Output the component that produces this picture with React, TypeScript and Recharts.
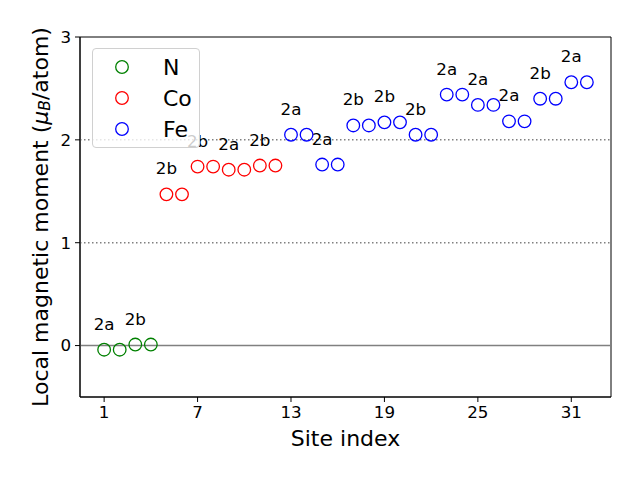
import React from "react";
import {
  ScatterChart,
  Scatter,
  XAxis,
  YAxis,
  ReferenceLine,
  ReferenceArea,
} from "recharts";

const nSites = [1, 2, 3, 4];
const nMoments = [-0.04, -0.04, 0.01, 0.01];
const coSites = [5, 6, 7, 8, 9, 10, 11, 12];
const coMoments = [1.47, 1.47, 1.74, 1.74, 1.71, 1.71, 1.75, 1.75];
const feSites = [13, 14, 15, 16, 17, 18, 19, 20, 21, 22, 23, 24, 25, 26, 27, 28, 29, 30, 31, 32];
const feMoments = [
  2.05, 2.05, 1.76, 1.76, 2.14, 2.14, 2.17, 2.17, 2.05, 2.05,
  2.44, 2.44, 2.34, 2.34, 2.18, 2.18, 2.4, 2.4, 2.56, 2.56,
];
const labelSites = [1, 3, 5, 7, 9, 11, 13, 15, 17, 19, 21, 23, 25, 27, 29, 31];
const labelTexts = ["2a", "2b", "2b", "2b", "2a", "2b", "2a", "2a", "2b", "2b", "2b", "2a", "2a", "2a", "2b", "2a"];
const xTicks = [1, 7, 13, 19, 25, 31];
const yTicks = [0, 1, 2, 3];
const xDomain = [-0.55, 33.55];
const yDomain = [-0.5, 3];

const seriesNames = ["N", "Co", "Fe"];
const seriesColors = ["#008000", "#ff0000", "#0000ff"];

const FONT = "DejaVu Sans, sans-serif";

const toPoints = (sites: number[], vals: number[]) =>
  sites.map((s, i) => ({ site: s, moment: vals[i] }));

const nData = toPoints(nSites, nMoments);
const coData = toPoints(coSites, coMoments);
const feData = toPoints(feSites, feMoments);
const allMoments = [...nMoments, ...coMoments, ...feMoments];
const allSites = [...nSites, ...coSites, ...feSites];
const labelData = labelSites.map((s, i) => ({
  site: s,
  moment: allMoments[allSites.indexOf(s)],
  text: labelTexts[i],
}));

const circleShape = (color: string) => (props: any) => (
  <circle cx={props.cx} cy={props.cy} r={6.3} fill="none" stroke={color} strokeWidth={1.3} />
);

const labelShape = (props: any) => (
  <text
    x={props.cx}
    y={props.cy - 26}
    textAnchor="middle"
    dominantBaseline="central"
    fontFamily={FONT}
    fontSize={16.7}
    fill="#000"
  >
    {props.payload.text}
  </text>
);

const LegendBox = () => (
  <div
    style={{
      position: "absolute",
      left: 92,
      top: 48,
      width: 106,
      height: 98,
      border: "1px solid #d0d0d0",
      borderRadius: 4,
      background: "rgba(255,255,255,0.8)",
      fontFamily: FONT,
    }}
  >
    {seriesNames.map((name, i) => (
      <div
        key={name}
        style={{ position: "absolute", left: 0, top: 3 + i * 31, height: 31, width: 106 }}
      >
        <svg width={40} height={31} style={{ position: "absolute", left: 9, top: 0 }}>
          <circle cx={20} cy={15} r={6.3} fill="none" stroke={seriesColors[i]} strokeWidth={1.3} />
        </svg>
        <span
          style={{
            position: "absolute",
            left: 70,
            top: 0,
            lineHeight: "31px",
            fontSize: 22,
            color: "#000",
          }}
        >
          {name}
        </span>
      </div>
    ))}
  </div>
);

export default function App() {
  return (
    <div style={{ position: "absolute", left: 0, top: 0, width: 640, height: 480, background: "#fff" }}>
      <ScatterChart
        width={640}
        height={480}
        margin={{ top: 37, right: 29, bottom: 0, left: 0 }}
      >
        <XAxis
          type="number"
          dataKey="site"
          domain={xDomain}
          ticks={xTicks}
          allowDataOverflow
          height={83}
          tickSize={5}
          tickMargin={4}
          stroke="#000"
          tick={{ fill: "#000", fontFamily: FONT, fontSize: 16.7 }}
          axisLine={{ stroke: "#000", strokeWidth: 1 }}
          tickLine={{ stroke: "#000" }}
          label={{
            value: "Site index",
            position: "insideBottom",
            offset: 34,
            fill: "#000",
            fontFamily: FONT,
            fontSize: 22,
          }}
        />
        <YAxis
          type="number"
          dataKey="moment"
          domain={yDomain}
          ticks={yTicks}
          allowDataOverflow
          width={80}
          tickSize={5}
          tickMargin={4}
          stroke="#000"
          tick={{ fill: "#000", fontFamily: FONT, fontSize: 16.7 }}
          axisLine={{ stroke: "#000", strokeWidth: 1 }}
          tickLine={{ stroke: "#000" }}
          label={(props: any) => {
            const vb = props.viewBox || {};
            const cy = (vb.y ?? 37) + (vb.height ?? 360) / 2;
            return (
              <text
                x={40}
                y={cy}
                transform={`rotate(-90, 40, ${cy})`}
                textAnchor="middle"
                dominantBaseline="central"
                fontFamily={FONT}
                fontSize={22}
                fill="#000"
              >
                {"Local magnetic moment ("}
                <tspan fontStyle="italic">μ</tspan>
                <tspan fontStyle="italic" fontSize={15.5} dy={5}>B</tspan>
                <tspan dy={-5}>{"/atom)"}</tspan>
              </text>
            );
          }}
        />
        <ReferenceLine y={0} stroke="#808080" strokeWidth={1.5} />
        <ReferenceLine y={1} stroke="#808080" strokeWidth={1.5} strokeDasharray="1.5 2.5" />
        <ReferenceLine y={2} stroke="#808080" strokeWidth={1.5} strokeDasharray="1.5 2.5" />
        <Scatter name="labels" data={labelData} shape={labelShape} isAnimationActive={false} />
        <Scatter
          name={seriesNames[0]}
          data={nData}
          fill={seriesColors[0]}
          shape={circleShape(seriesColors[0])}
          isAnimationActive={false}
        />
        <Scatter
          name={seriesNames[1]}
          data={coData}
          fill={seriesColors[1]}
          shape={circleShape(seriesColors[1])}
          isAnimationActive={false}
        />
        <Scatter
          name={seriesNames[2]}
          data={feData}
          fill={seriesColors[2]}
          shape={circleShape(seriesColors[2])}
          isAnimationActive={false}
        />
        <ReferenceArea
          x1={xDomain[0]}
          x2={xDomain[1]}
          y1={yDomain[0]}
          y2={yDomain[1]}
          fill="none"
          fillOpacity={0}
          stroke="#000"
          strokeWidth={1}
          ifOverflow="extendDomain"
        />
      </ScatterChart>
      <LegendBox />
    </div>
  );
}
